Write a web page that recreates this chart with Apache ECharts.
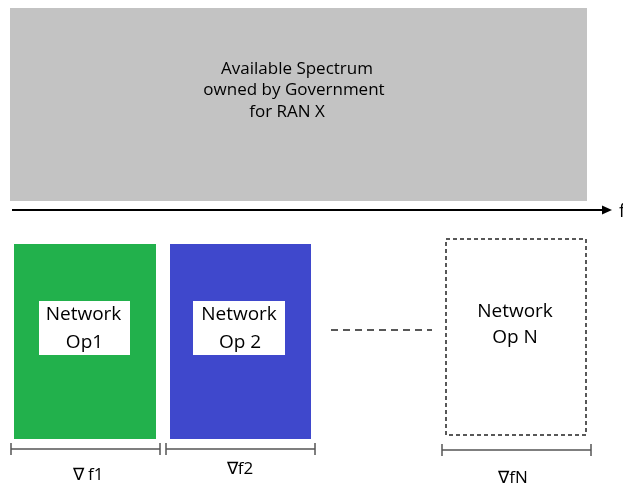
<!DOCTYPE html>
<html>
<head>
<meta charset="utf-8">
<script src="https://cdn.jsdelivr.net/npm/echarts@6/dist/echarts.min.js"></script>
<style>html,body{margin:0;padding:0;background:#fff;}#c{width:623px;height:485px;}</style>
</head>
<body>
<div id="c"></div>
<script>
// Diagram data (frequency axis units / vertical layout units)
const spectrumLines = ['Available Spectrum', 'owned by Government', 'for RAN X'];
const spectrumRange = [10, 587];
const spectrumBand = [8, 201];
const operatorNames = [['Network', 'Op1'], ['Network', 'Op 2'], ['Network', 'Op N']];
const operatorStart = [14, 170, 446];
const operatorEnd = [156, 311, 586];
const bandwidthLabels = ['\u2207 f1', '\u2207f2', '\u2207fN'];
const bandwidthStart = [11, 166, 442];
const bandwidthEnd = [160, 315, 591];
const axisLabel = 'f';

const chart = echarts.init(document.getElementById('c'), null, {renderer: 'canvas'});
const FONT = '"Open Sans", sans-serif';
const opFill = ['#22b14c', '#3f48cc', 'none'];
const TXT = '#000';

function rect(api, x0, x1, y0, y1) {
  const p0 = api.coord([x0, y0]), p1 = api.coord([x1, y1]);
  return {x: p0[0], y: p0[1], width: p1[0] - p0[0], height: p1[1] - p0[1]};
}

const series = [];
// Spectrum block
series.push({
  type: 'custom', silent: true,
  data: [[spectrumRange[0], spectrumRange[1], spectrumBand[0], spectrumBand[1]]],
  renderItem: function (params, api) {
    const s = rect(api, api.value(0), api.value(1), api.value(2), api.value(3));
    const children = [{type: 'rect', shape: s, style: {fill: '#c3c3c3'}}];
    const cx = [297, 294, 287], cy = [69, 90, 112];
    spectrumLines.forEach(function (t, i) {
      const p = api.coord([cx[i], cy[i]]);
      children.push({type: 'text', style: {text: t, x: p[0], y: p[1], fill: TXT, font: '17px ' + FONT, align: 'center', verticalAlign: 'middle'}});
    });
    return {type: 'group', children: children};
  }
});
// Frequency axis arrow
series.push({
  type: 'custom', silent: true,
  data: [[12, 612, 210]],
  renderItem: function (params, api) {
    const a = api.coord([api.value(0), api.value(2)]);
    const b = api.coord([api.value(1), api.value(2)]);
    return {type: 'group', children: [
      {type: 'line', shape: {x1: a[0], y1: a[1], x2: b[0] - 8, y2: b[1]}, style: {stroke: '#000', lineWidth: 2}},
      {type: 'polygon', shape: {points: [[b[0], b[1]], [b[0] - 10, b[1] - 4.5], [b[0] - 10, b[1] + 4.5]]}, style: {fill: '#000'}},
      {type: 'text', style: {text: axisLabel, x: b[0] + 7, y: b[1] + 2, fill: TXT, font: '18px ' + FONT, align: 'left', verticalAlign: 'middle'}}
    ]};
  }
});
// Operator blocks
series.push({
  type: 'custom', silent: true,
  data: operatorStart.map(function (s, i) { return [s, operatorEnd[i], i]; }),
  renderItem: function (params, api) {
    const i = api.value(2);
    const children = [];
    if (i < 2) {
      const s = rect(api, api.value(0), api.value(1), 244, 439);
      children.push({type: 'rect', shape: s, style: {fill: opFill[i]}});
      const w = i === 0 ? rect(api, 39, 130, 301, 355) : rect(api, 193, 285, 301, 355);
      children.push({type: 'rect', shape: w, style: {fill: '#fff'}});
      const cx = (w.x + w.width / 2) + (i === 0 ? -1 : 0);
      children.push({type: 'text', style: {text: operatorNames[i][0], x: cx, y: api.coord([0, 315])[1], fill: TXT, font: '19px ' + FONT, align: 'center', verticalAlign: 'middle'}});
      children.push({type: 'text', style: {text: operatorNames[i][1], x: cx + 1, y: api.coord([0, 343])[1], fill: TXT, font: '19px ' + FONT, align: 'center', verticalAlign: 'middle'}});
    } else {
      const s = rect(api, api.value(0), api.value(1), 239, 435);
      children.push({type: 'rect', shape: s, style: {fill: 'none', stroke: '#222', lineWidth: 1.5, lineDash: [4, 3]}});
      const cx = s.x + s.width / 2 - 1;
      children.push({type: 'text', style: {text: operatorNames[i][0], x: cx, y: api.coord([0, 312])[1], fill: TXT, font: '19px ' + FONT, align: 'center', verticalAlign: 'middle'}});
      children.push({type: 'text', style: {text: operatorNames[i][1], x: cx, y: api.coord([0, 338])[1], fill: TXT, font: '19px ' + FONT, align: 'center', verticalAlign: 'middle'}});
    }
    return {type: 'group', children: children};
  }
});
// Dashed continuation line
series.push({
  type: 'custom', silent: true,
  data: [[331, 432, 330]],
  renderItem: function (params, api) {
    const a = api.coord([api.value(0), api.value(2)]);
    const b = api.coord([api.value(1), api.value(2)]);
    return {type: 'line', shape: {x1: a[0], y1: a[1], x2: b[0], y2: b[1]}, style: {stroke: '#222', lineWidth: 1.5, lineDash: [7, 5]}};
  }
});
// Bandwidth dimension bars
series.push({
  type: 'custom', silent: true,
  data: bandwidthStart.map(function (s, i) { return [s, bandwidthEnd[i], i]; }),
  renderItem: function (params, api) {
    const i = api.value(2);
    const y = i === 2 ? 450 : 449;
    const a = api.coord([api.value(0), y]);
    const b = api.coord([api.value(1), y]);
    const ly = [475, 469, 478][i];
    const lx = [88, 240, 513][i];
    const lp = api.coord([lx, ly]);
    return {type: 'group', children: [
      {type: 'line', shape: {x1: a[0], y1: a[1], x2: b[0], y2: b[1]}, style: {stroke: '#555', lineWidth: 1.5}},
      {type: 'line', shape: {x1: a[0], y1: a[1] - 6, x2: a[0], y2: a[1] + 6}, style: {stroke: '#555', lineWidth: 1.5}},
      {type: 'line', shape: {x1: b[0], y1: b[1] - 6, x2: b[0], y2: b[1] + 6}, style: {stroke: '#555', lineWidth: 1.5}},
      {type: 'text', style: {text: bandwidthLabels[i], x: lp[0], y: lp[1], fill: TXT, font: '17px ' + FONT, align: 'center', verticalAlign: 'middle'}}
    ]};
  }
});

chart.setOption({
  animation: false,
  backgroundColor: '#fff',
  grid: {left: 0, right: 0, top: 0, bottom: 0},
  xAxis: {type: 'value', min: 0, max: 623, show: false},
  yAxis: {type: 'value', min: 0, max: 485, inverse: true, show: false},
  series: series
});
</script>
</body>
</html>
